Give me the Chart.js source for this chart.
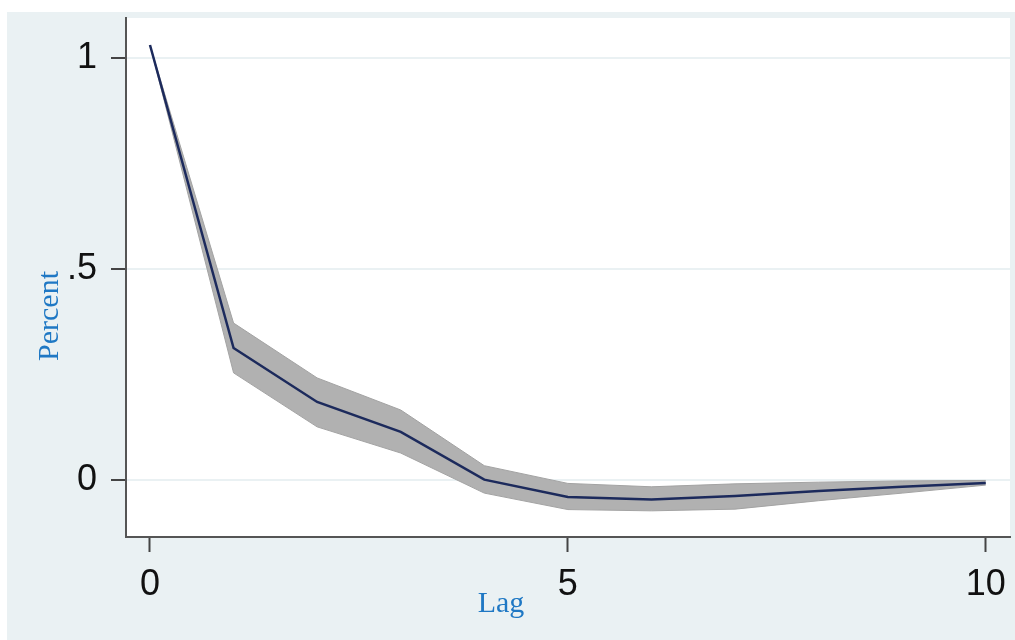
<!DOCTYPE html>
<html>
<head>
<meta charset="utf-8">
<title>Impulse response</title>
<script src="https://cdn.jsdelivr.net/npm/chart.js@4.4.1/dist/chart.umd.min.js"></script>
<style>
  html, body { margin: 0; padding: 0; background: #fff; }
  canvas { display: block; }
</style>
</head>
<body>
<canvas id="irf" width="1015" height="640"></canvas>
<script>
// response by lag, with confidence band
const lags = [0, 1, 2, 3, 4, 5, 6, 7, 8, 9, 10];
const response = [1.031, 0.313, 0.185, 0.114, 0.001, -0.040, -0.046, -0.038, -0.026, -0.016, -0.007];
const upperBand = [1.031, 0.372, 0.242, 0.166, 0.034, -0.008, -0.016, -0.009, -0.005, -0.002, -0.001];
const lowerBand = [1.031, 0.254, 0.126, 0.064, -0.031, -0.070, -0.073, -0.069, -0.049, -0.031, -0.012];

const xTicks = [0, 5, 10];
const yTicks = [0, 0.5, 1];
const yTickLabels = ['0', '.5', '1'];

const toPoints = (ys) => lags.map((x, i) => ({ x: x, y: ys[i] }));

const panelBg = '#eaf1f3';

// outer panel + white plot region, then the axis titles
const backdrop = {
  id: 'backdrop',
  beforeDraw(chart) {
    const { ctx, chartArea: a } = chart;
    ctx.save();
    ctx.fillStyle = '#ffffff';
    ctx.fillRect(0, 0, chart.width, chart.height);
    ctx.fillStyle = panelBg;
    ctx.fillRect(7, 12, chart.width - 7, chart.height - 12);
    ctx.fillStyle = '#ffffff';
    ctx.fillRect(a.left, a.top, a.right - a.left, a.bottom - a.top);
    ctx.restore();
  },
  afterDraw(chart) {
    const { ctx } = chart;
    ctx.save();
    ctx.fillStyle = '#1f78c4';
    ctx.font = '30px "Liberation Serif", "Times New Roman", serif';
    ctx.textAlign = 'center';
    ctx.textBaseline = 'middle';
    ctx.fillText('Lag', 501, 604);
    ctx.translate(50, 316);
    ctx.rotate(-Math.PI / 2);
    ctx.fillText('Percent', 0, 0);
    ctx.restore();
  }
};

// keep tick labels from pushing the plot area around
const noOverflow = (scale) => {
  scale.paddingTop = 0;
  scale.paddingBottom = 0;
  scale.paddingLeft = 0;
  scale.paddingRight = 0;
};

new Chart(document.getElementById('irf'), {
  type: 'line',
  data: {
    datasets: [
      {
        label: 'upper',
        data: toPoints(upperBand),
        borderColor: '#a3a3a3',
        borderWidth: 1,
        backgroundColor: '#b1b1b1',
        pointRadius: 0,
        fill: false,
        order: 2
      },
      {
        label: 'lower',
        data: toPoints(lowerBand),
        borderColor: '#a3a3a3',
        borderWidth: 1,
        backgroundColor: '#b1b1b1',
        pointRadius: 0,
        fill: '-1',
        order: 2
      },
      {
        label: 'irf',
        data: toPoints(response),
        borderColor: '#1c2a5c',
        borderWidth: 2.5,
        pointRadius: 0,
        fill: false,
        order: 1
      }
    ]
  },
  options: {
    responsive: false,
    animation: false,
    devicePixelRatio: 1,
    layout: { padding: { left: 0, top: 18, right: 5, bottom: 0 } },
    plugins: {
      legend: { display: false },
      tooltip: { enabled: false }
    },
    scales: {
      x: {
        type: 'linear',
        min: -0.287,
        max: 10.29,
        afterBuildTicks: (scale) => { scale.ticks = xTicks.map(v => ({ value: v })); },
        afterFit: (scale) => { scale.height = 103; noOverflow(scale); },
        border: { display: true, color: '#555555', width: 2 },
        grid: {
          drawOnChartArea: false,
          drawTicks: true,
          tickLength: 15,
          tickColor: '#444444',
          tickWidth: 2
        },
        ticks: {
          color: '#111111',
          padding: 11,
          maxRotation: 0,
          font: { family: '"Liberation Sans", Arial, sans-serif', size: 36 }
        }
      },
      y: {
        min: -0.135,
        max: 1.095,
        afterBuildTicks: (scale) => { scale.ticks = yTicks.map(v => ({ value: v })); },
        afterFit: (scale) => { scale.width = 126; noOverflow(scale); },
        border: { display: true, color: '#555555', width: 2 },
        grid: {
          color: panelBg,
          lineWidth: 2,
          drawTicks: true,
          tickLength: 15,
          tickColor: '#444444',
          tickWidth: 2
        },
        ticks: {
          color: '#111111',
          padding: 14,
          font: { family: '"Liberation Sans", Arial, sans-serif', size: 36 },
          callback: (value) => yTickLabels[yTicks.indexOf(value)]
        }
      }
    }
  },
  plugins: [backdrop]
});
</script>
</body>
</html>
